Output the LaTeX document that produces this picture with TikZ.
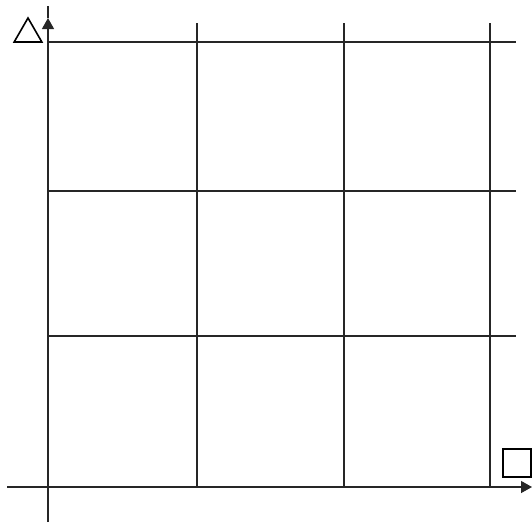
\documentclass[tikz,border=0pt]{standalone}
\usetikzlibrary{arrows.meta,shapes.geometric}

\begin{document}
\begin{tikzpicture}[
        x=1pt, y=-1pt,
        gridline/.style={draw=black!85, line width=1.3pt},
        axisline/.style={gridline, -{Triangle[length=11pt,width=12pt]}},
        marker/.style={draw=black, line width=1.6pt, inner sep=0pt, fill=white},
    ]
    \useasboundingbox (0,0) rectangle (532,522);
    % grid
    \foreach \gx in {197,344,490}{
        \draw[gridline] (\gx,23) -- (\gx,487);
    }
    \foreach \gy in {42,191,336}{
        \draw[gridline] (48,\gy) -- (516,\gy);
    }
    % axes
    \coordinate (origin) at (48,487);
    \coordinate (ybot) at (48,522);
    \coordinate (ytip) at (48,18);
    \coordinate (yend) at (48,6);
    \coordinate (xleft) at (7,487);
    \coordinate (xtip) at (532,487);
    \draw[axisline] (ybot) -- (ytip);
    \draw[gridline] (ytip) -- (yend);
    \draw[axisline] (xleft) -- (xtip);
    % markers
    \node[marker, regular polygon, regular polygon sides=3, minimum size=32pt] (tri) at (28,34) {};
    \node[marker, rectangle, minimum size=28pt] (sq) at (517,463) {};
\end{tikzpicture}
\end{document}
